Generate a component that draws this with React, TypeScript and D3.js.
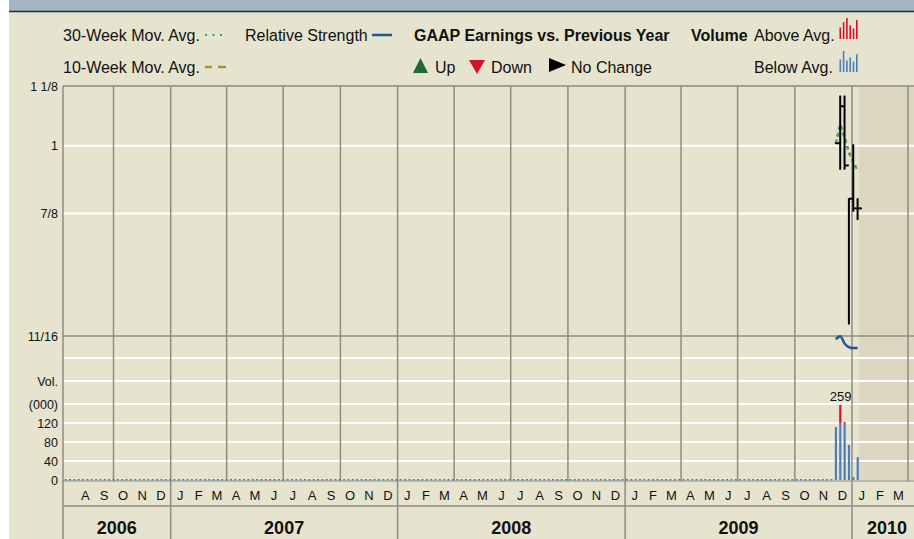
import React from "react";
import * as d3 from "d3";

// weekly data (only the last few weeks have trades)
const weekDates = ["2009-12-06", "2009-12-13", "2009-12-20", "2009-12-27", "2010-01-03", "2010-01-10"];
const highs = [1.005, 1.103, 1.103, 0.901, 1.002, 0.901];
const lows = [1.005, 0.955, 0.955, 0.704, 0.879, 0.865];
const closes = [1.005, 1.081, 0.962, 0.901, 0.884, 0.884];
const ma10 = [1.005, 1.043, 1.016, 0.987, 0.967, 0.953];
const ma30 = [1.005, 1.043, 1.016, 0.987, 0.967, 0.953];
const relStrength = [67, 68.5, 65, 63.3, 62.8, 62.8];
const volumes = [183, 259, 200, 121, 10, 79];
const volAvg = [197, 197, 197, 197, 197, 197];
const maxVolLabel = "259";

const priceTicks = [1.125, 1, 0.875, 0.6875];
const priceTickLabels = ["1 1/8", "1", "7/8", "11/16"];
const volTicks = [0, 40, 80, 120, 160, 200, 240];
const volTickLabels = ["0", "40", "80", "120", "(000)", "Vol.", ""];
const monthLetters = ["J", "F", "M", "A", "M", "J", "J", "A", "S", "O", "N", "D"];
const years = [2006, 2007, 2008, 2009, 2010];
const iconAbove = [0.55, 0.8, 1.0, 0.65, 0.5, 0.9];
const iconBelow = [0.6, 1.0, 0.55, 0.7, 0.5, 0.85];

const W = 914, H = 539;
const LEFT = 63, TOP = 86, SEP = 336, VOLBASE = 480, MONTHBOT = 506, RIGHT = 922;
const FONT = "'Liberation Sans', Arial, sans-serif";
const BG = "#e6e4cf";
const GRID = "#8e8c84";

export default function App() {
  const dates = weekDates.map(d => d3.timeParse("%Y-%m-%d")(d) as Date);
  const x = d3.scaleTime()
    .domain([new Date(2007, 0, 1), new Date(2010, 0, 1)])
    .range([170.7, 852]);
  const leftDate = x.invert(LEFT);
  const rightDate = x.invert(RIGHT);

  const y = d3.scaleLog().domain([0.6875, 1.125]).range([SEP, TOP]);
  const volAxis = d3.scaleLinear().domain([0, 160, 240]).range([VOLBASE, 404, 358]);
  const volBar = d3.scaleLinear().domain([0, 259]).range([VOLBASE, 405]);
  const rsY = d3.scaleLinear().domain([0, 100]).range([480, 270]);

  const quarters = d3.timeMonth.every(3)!.range(leftDate, rightDate).filter(d => x(d) > LEFT + 2);
  const months = d3.timeMonth.range(d3.timeMonth.floor(leftDate), rightDate);
  const emptyWeeks = d3.timeWeek.range(leftDate, d3.timeDay.offset(dates[0], -3));

  const maLine = d3.line<number>().x((_, i) => x(dates[i])).y(v => y(v));
  const rsLine = d3.line<number>().x((_, i) => x(dates[i])).y(v => rsY(v)).curve(d3.curveMonotoneX);

  const shadeStart = x(d3.timeDay.offset(dates[dates.length - 1], 2));

  return (
    <svg width={W} height={H} style={{ position: "absolute", left: 0, top: 0, display: "block" }} fontFamily={FONT}>
      <rect x={9} y={0} width={W} height={H} fill={BG} />
      <rect x={9} y={0} width={W} height={11} fill="#a4b5bf" />
      <line x1={9} x2={W} y1={11.5} y2={11.5} stroke="#1e2a30" strokeWidth={1.5} />

      {/* legend */}
      <g fontSize={16} fill="#111">
        <text x={63} y={40.5}>30-Week Mov. Avg.</text>
        {[0, 1, 2].map(i => <rect key={i} x={205 + i * 7.5} y={34} width={2} height={2} fill="#1ea0a0" />)}
        <text x={245} y={40.5}>Relative Strength</text>
        <line x1={372} x2={392} y1={35} y2={35} stroke="#1c5796" strokeWidth={2.5} />
        <text x={414} y={40.5} fontWeight="bold">GAAP Earnings vs. Previous Year</text>
        <text x={691} y={40.5} fontWeight="bold">Volume</text>
        <text x={754} y={40.5}>Above Avg.</text>
        {iconAbove.map((h, i) => (
          <rect key={i} x={839.5 + i * 3.3} y={39 - h * 21} width={1.6} height={h * 21} fill="#d0142a" />
        ))}
        <text x={63} y={72.5}>10-Week Mov. Avg.</text>
        <line x1={205} x2={212} y1={67} y2={67} stroke="#a09a2a" strokeWidth={2.5} />
        <line x1={218} x2={226} y1={67} y2={67} stroke="#a09a2a" strokeWidth={2.5} />
        <polygon points="413,73 428,73 420.5,58" fill="#1d6a35" />
        <text x={435} y={72.5}>Up</text>
        <polygon points="469,60 485,60 477,74" fill="#d0142a" />
        <text x={491} y={72.5}>Down</text>
        <polygon points="549,58 549,72 566,65" fill="#000" />
        <text x={571} y={72.5}>No Change</text>
        <text x={754} y={72.5}>Below Avg.</text>
        {iconBelow.map((h, i) => (
          <rect key={i} x={839.5 + i * 3.3} y={72 - h * 21} width={1.6} height={h * 21} fill="#4a7fb8" />
        ))}
      </g>

      {/* shaded future */}
      <rect x={shadeStart} y={TOP} width={W - shadeStart} height={VOLBASE - TOP} fill="#ddd7c1" />

      {/* horizontal grid */}
      {priceTicks.slice(1, 3).map((p, i) => (
        <line key={i} x1={LEFT} x2={W} y1={y(p)} y2={y(p)} stroke="#fff" strokeWidth={2} />
      ))}
      {volTicks.slice(1).map((v, i) => (
        <line key={i} x1={LEFT} x2={W} y1={volAxis(v)} y2={volAxis(v)} stroke="#fff" strokeWidth={2} />
      ))}
      <line x1={LEFT} x2={W} y1={TOP} y2={TOP} stroke={GRID} strokeWidth={1.5} />
      <line x1={LEFT} x2={W} y1={SEP} y2={SEP} stroke={GRID} strokeWidth={1.5} />
      <line x1={LEFT} x2={W} y1={VOLBASE + 1} y2={VOLBASE + 1} stroke={GRID} strokeWidth={1.2} />
      <line x1={LEFT} x2={W} y1={MONTHBOT} y2={MONTHBOT} stroke={GRID} strokeWidth={1.5} />

      {/* vertical grid */}
      {quarters.map((d, i) => (
        <line key={i} x1={x(d)} x2={x(d)} y1={TOP} y2={d.getMonth() === 0 ? H : VOLBASE + 1}
          stroke={GRID} strokeWidth={1.5} />
      ))}
      <line x1={LEFT} x2={LEFT} y1={TOP} y2={H} stroke={GRID} strokeWidth={1.5} />

      {/* y labels */}
      <g fontSize={12.5} fill="#111" textAnchor="end">
        {priceTicks.map((p, i) => (
          <text key={i} x={58} y={y(p) + 4.5}>{priceTickLabels[i]}</text>
        ))}
        {volTicks.map((v, i) => (
          <text key={i} x={58} y={volAxis(v) + 4.5}>{volTickLabels[i]}</text>
        ))}
      </g>

      {/* month + year labels */}
      <g fontSize={13} fill="#111" textAnchor="middle">
        {months.map((m, i) => {
          const mid = (x(m) + x(d3.timeMonth.offset(m, 1))) / 2;
          if (mid < LEFT + 12 || mid > W) return null;
          return <text key={i} x={mid} y={499.5}>{monthLetters[m.getMonth()]}</text>;
        })}
      </g>
      <g fontSize={18} fontWeight="bold" fill="#111" textAnchor="middle">
        {years.map(yr => {
          const a = Math.max(x(new Date(yr, 0, 1)), LEFT);
          const b = Math.min(x(new Date(yr + 1, 0, 1)), RIGHT);
          return <text key={yr} x={(a + b) / 2} y={533.5}>{yr}</text>;
        })}
      </g>

      {/* empty volume weeks */}
      {emptyWeeks.map((d, i) => (
        <rect key={i} x={x(d) - 1} y={VOLBASE - 1} width={2} height={1.5} fill="#4a7fb8" />
      ))}

      {/* volume bars */}
      {volumes.map((v, i) => {
        const cx = x(dates[i]);
        const split = Math.min(v, volAvg[i]);
        return (
          <g key={i}>
            <rect x={cx - 1} y={volBar(split)} width={2.2} height={VOLBASE - volBar(split)} fill="#4a7fb8" />
            {v > volAvg[i] && (
              <rect x={cx - 1} y={volBar(v)} width={2.2} height={volBar(volAvg[i]) - volBar(v)} fill="#d0142a" />
            )}
          </g>
        );
      })}
      <text x={x(dates[1]) + 0.5} y={volBar(259) - 4} fontSize={13} textAnchor="middle" fill="#111">{maxVolLabel}</text>

      {/* relative strength */}
      <path d={rsLine(relStrength) || ""} fill="none" stroke="#1c5796" strokeWidth={2.5} />

      {/* moving averages */}
      <path d={maLine(ma10) || ""} fill="none" stroke="#a09a2a" strokeWidth={2.5} strokeDasharray="4,3" />
      <path d={maLine(ma30) || ""} fill="none" stroke="#1ea0a0" strokeWidth={2.5} strokeDasharray="2,5" />

      {/* price bars */}
      {dates.map((d, i) => {
        const cx = x(d);
        return (
          <g key={i} stroke="#000" strokeWidth={2}>
            <line x1={cx} x2={cx} y1={y(highs[i]) - 0.5} y2={y(lows[i]) + 0.5} />
            <line x1={cx} x2={cx + 4.3} y1={y(closes[i])} y2={y(closes[i])} />
          </g>
        );
      })}
    </svg>
  );
}
